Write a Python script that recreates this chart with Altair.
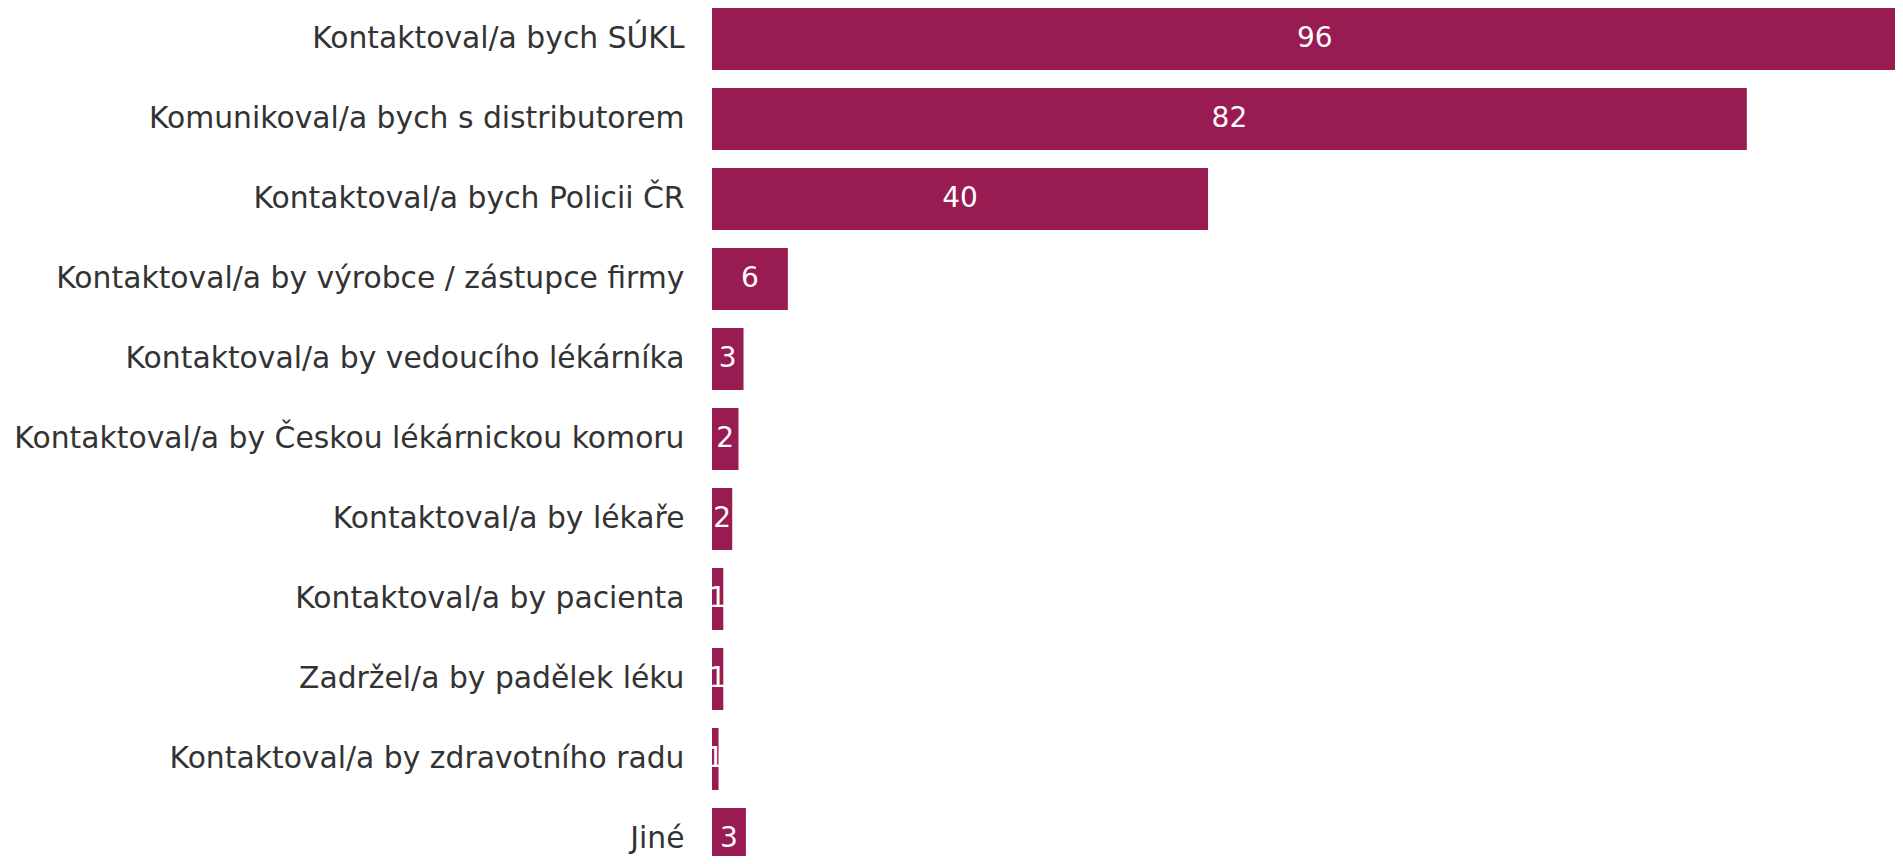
import altair as alt
import pandas as pd

categories = [
    "Kontaktoval/a bych SÚKL",
    "Komunikoval/a bych s distributorem",
    "Kontaktoval/a bych Policii ČR",
    "Kontaktoval/a by výrobce / zástupce firmy",
    "Kontaktoval/a by vedoucího lékárníka",
    "Kontaktoval/a by Českou lékárnickou komoru",
    "Kontaktoval/a by lékaře",
    "Kontaktoval/a by pacienta",
    "Zadržel/a by padělek léku",
    "Kontaktoval/a by zdravotního radu",
    "Jiné",
]
bar_values = [96.0, 82.4, 39.5, 6.04, 2.51, 2.11, 1.61, 0.90, 0.90, 0.52, 2.70]
label_values = ["96", "82", "40", "6", "3", "2", "2", "1", "1", "1", "3"]

df = pd.DataFrame({"cat": categories, "val": bar_values, "lab": label_values})

FONT = "DejaVu Sans"
COLOR = "#981b52"
XMAX = 94.2

xscale = alt.Scale(domain=[0, XMAX], nice=False, zero=True)

base = alt.Chart(df).encode(
    y=alt.Y(
        "cat:N",
        sort=categories,
        title=None,
        scale=alt.Scale(paddingInner=0.225, paddingOuter=0),
        axis=alt.Axis(
            ticks=False,
            domain=False,
            grid=False,
            labelFont=FONT,
            labelFontSize=29.8,
            labelColor="#333333",
            labelPadding=28,
            labelLimit=0,
        ),
    )
)

bars = base.mark_bar(color=COLOR, clip=True).encode(
    x=alt.X("val:Q", title=None, axis=None, scale=xscale),
)

texts = base.transform_calculate(mid="datum.val / 2").mark_text(
    color="white", font=FONT, fontSize=28, align="center", baseline="middle"
).encode(
    x=alt.X("mid:Q", title=None, axis=None, scale=xscale),
    text="lab:N",
)

chart = (
    alt.layer(bars, texts)
    .properties(
        width=1887,
        height=862,
        padding={"left": 5, "top": 0, "right": 0, "bottom": -14},
        autosize=alt.AutoSizeParams(type="fit-x", contains="padding"),
    )
    .configure_view(stroke=None)
)

chart.save("out.html", embed_options={"renderer": "svg", "actions": False})
